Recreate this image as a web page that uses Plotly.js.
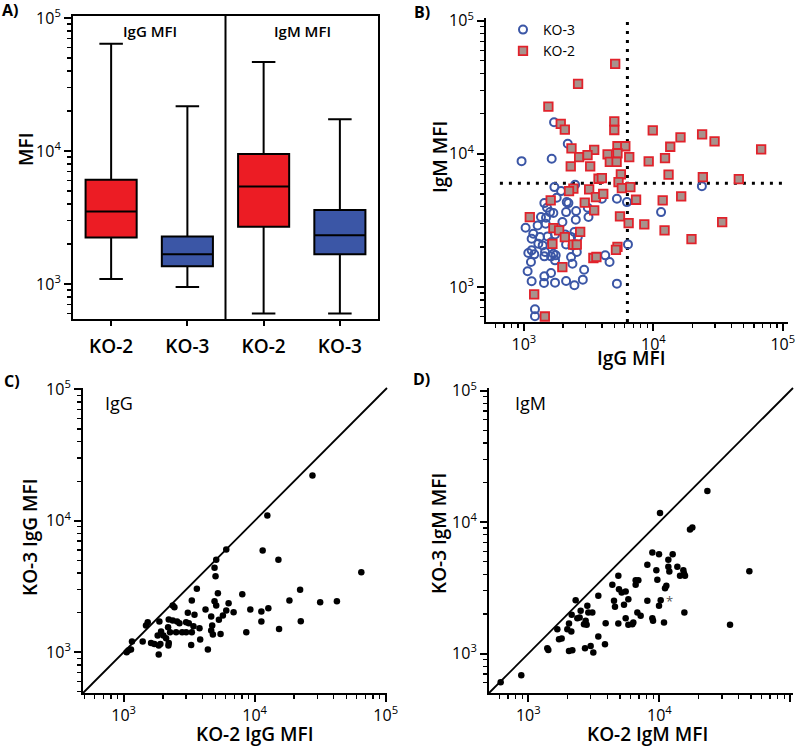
<!DOCTYPE html>
<html><head><meta charset="utf-8">
<script src="https://cdn.plot.ly/plotly-3.0.1.min.js"></script>
<style>html,body{margin:0;padding:0;background:#fff}#chart{width:800px;height:747px}</style>
</head><body><div id="chart"></div>
<script>
// ---------- Panel A: box plot summary values ----------
const boxLabels = ['KO-2', 'KO-3', 'KO-2', 'KO-3'];
const boxPositions = [0, 1, 2, 3];
const ko2Pos = [0, 2];            // IgG, IgM
const ko3Pos = [1, 3];
const ko2Upper  = [64000, 46700];
const ko2Q3     = [6080, 9500];
const ko2Median = [3510, 5400];
const ko2Q1     = [2240, 2700];
const ko2Lower  = [1090, 600];
const ko3Upper  = [21700, 17300];
const ko3Q3     = [2280, 3600];
const ko3Median = [1675, 2330];
const ko3Q1     = [1360, 1675];
const ko3Lower  = [950, 600];

// ---------- Panel B: IgG vs IgM MFI per strain ----------
const bKO3IgG = [959,1709,1639,2181,1719,1936,2485,2142,2206,1791,1438,1508,1591,1688,1354,1481,1030,1276,1472,2117,2530,1983,2515,3115,3153,4000,5228,6251,1181,1330,1147,1526,1739,1639,2079,2313,2455,2606,1292,1396,1081,1147,1202,1455,1688,1760,1619,2117,2370,2561,1133,1438,1739,2313,2370,4246,4586,6363,1068,1147,1438,1619,1429,1739,2117,2455,2918,2850,5228,1217,1217,23700,11467];
const bKO3IgM = [8810,17280,9173,11885,5623,5248,5854,4340,4266,4677,4266,3936,3651,3589,3350,3311,2786,2901,2985,3651,3715,3073,3199,3936,3350,4597,4597,4340,2512,2371,2304,2399,2483,2176,2483,2371,2585,2371,2113,2053,1799,1884,1758,1830,1778,1728,1698,2089,2053,1830,1540,1698,1585,1679,1496,1728,1540,2089,1311,1103,1202,1274,1072,1078,1109,1029,1349,1135,1059,680,603,5720,3651];
const bKO2IgG = [5070,2620,1545,1925,2070,4990,4990,9890,2330,3490,5280,6070,2670,3100,4430,5280,6510,4610,5200,2300,3250,9200,12300,13500,16200,23800,29700,68000,13100,24100,45700,5610,3770,4000,5380,5710,6640,2410,2230,3190,3600,4100,7350,11800,16400,2950,1610,3490,1110,5520,6440,8510,34000,12200,19700,1690,1870,2720,1660,2070,2400,2560,5280,5140,3440,3630,1980,1200,1450];
const bKO2IgM = [47300,33500,22600,16800,15200,17500,15100,15000,11000,10700,11400,11400,9440,9770,9890,10100,9440,8710,8710,8040,8040,8770,9290,11300,13300,14000,12400,10800,6970,6680,6460,7000,6500,6580,6130,5530,5620,5470,5250,5400,4730,5010,4520,4470,4790,4300,4470,3760,3350,3390,3020,2950,3070,2660,2290,2770,2660,2590,2110,2370,2080,2080,2000,1900,1650,1680,1410,880,600];
const igGThreshold = 6300;
const igMThreshold = 6000;

// ---------- Panel C: KO-2 vs KO-3 IgG ----------
const cKO2IgG = [27620,12500,6070,11510,15180,65150,5089,4942,5029,3622,8046,5240,3315,2371,2442,4942,5089,6324,22230,18420,31620,42420,9266,11250,12720,6907,6070,5723,5333,4660,4217,3090,3474,2210,2371,2559,2667,1875,1527,1482,2999,3144,3413,3794,4742,4660,4798,5492,3839,3315,2999,2795,2515,2184,2262,1931,2012,1820,2109,2210,2197,1619,1717,1908,1853,1398,1158,1086,1138,1054,1853,3277,4395,11250,8635,22490,15360];
const cKO3IgG = [22140,10980,6050,5944,5047,4066,5047,4386,3791,3035,2764,2813,2475,2266,2201,2445,2266,2361,2983,2475,2403,2445,2114,2040,2163,2016,2076,1902,1763,1869,2114,1993,1925,1773,1742,1712,1663,1712,1692,1596,1692,1663,1578,1523,1596,1462,1363,1379,1249,1420,1420,1420,1420,1550,1420,1437,1339,1339,1279,1178,1124,1178,1157,1157,1124,1206,1206,1030,1048,1000,960,1137,1048,1712,1420,1722,1505];

// ---------- Panel D: KO-2 vs KO-3 IgM ----------
const dKO2IgM = [615,884,1396,1421,1665,1715,1797,1985,2044,2129,2142,2044,2167,2298,2366,2465,2509,2660,2740,2788,2821,2871,3080,2708,2991,3134,3422,3422,3847,3893,4378,4508,4587,4864,4864,4921,5158,5534,5374,5799,5534,5799,6221,6331,6596,6913,6596,6793,7202,8099,8099,8843,9942,9487,9654,11710,8843,8948,10850,9942,10240,11050,11310,10120,23250,17140,17860,12640,11710,11920,13720,15250,15430,14380,15700,48640,15520,34630];
const dKO3IgM = [605,684,1098,1066,1532,1286,1301,1532,1692,1471,1970,1048,1060,2548,1858,1880,2114,1673,1773,1653,2307,2052,2052,1098,1144,1018,2749,1347,1178,1702,3333,2518,2266,3904,1692,3090,2914,2966,2348,2593,1858,1653,1673,1722,3618,3618,3333,2052,1935,2518,4733,5875,5706,4310,3639,5167,1858,1773,1722,2307,2548,3145,3275,11710,17220,8796,9108,5706,4570,4210,4570,4310,4066,3904,3904,4236,2052,1653];

// ---------- shared tick labels ----------
const logTickVals = [1000, 10000, 100000];
const logTickText = ['10<sup>3</sup>', '10<sup>4</sup>', '10<sup>5</sup>'];
const logMinorTicks = [500, 600, 700, 800, 900, 2000, 3000, 4000, 5000, 6000, 7000, 8000, 9000,
                       20000, 30000, 40000, 50000, 60000, 70000, 80000, 90000];

const W = 800, H = 747;
const px = x => x / W;
const py = y => 1 - y / H;
const FONT = '"Open Sans", "Liberation Sans", Arial, sans-serif';
const RED = '#ec1c24', BLUE = '#3b56a6';

function logAxis(extra) {
  return Object.assign({
    type: 'log', tickmode: 'array', tickvals: logTickVals, ticktext: logTickText,
    ticks: 'outside', ticklen: 7, tickwidth: 2, tickcolor: 'black',
    showline: true, linecolor: 'black', linewidth: 2,
    showgrid: false, zeroline: false,
    tickfont: {family: FONT, size: 16, color: 'black'},
    minor: {tickmode: 'array', tickvals: logMinorTicks, ticks: 'outside', ticklen: 4,
            tickwidth: 1.3, tickcolor: 'black', showgrid: false}
  }, extra);
}

const traces = [
  {type: 'box', x: ko2Pos, q1: ko2Q1, median: ko2Median, q3: ko2Q3,
   lowerfence: ko2Lower, upperfence: ko2Upper, width: 0.67, whiskerwidth: 0.46,
   fillcolor: RED, line: {color: 'black', width: 2}, boxpoints: false,
   xaxis: 'x', yaxis: 'y', showlegend: false, hoverinfo: 'skip'},
  {type: 'box', x: ko3Pos, q1: ko3Q1, median: ko3Median, q3: ko3Q3,
   lowerfence: ko3Lower, upperfence: ko3Upper, width: 0.67, whiskerwidth: 0.46,
   fillcolor: BLUE, line: {color: 'black', width: 2}, boxpoints: false,
   xaxis: 'x', yaxis: 'y', showlegend: false, hoverinfo: 'skip'},
  {type: 'scatter', mode: 'markers', name: 'KO-3', x: bKO3IgG, y: bKO3IgM,
   xaxis: 'x2', yaxis: 'y2',
   marker: {symbol: 'circle-open', size: 8, color: BLUE, line: {width: 2, color: BLUE}}},
  {type: 'scatter', mode: 'markers', name: 'KO-2', x: bKO2IgG, y: bKO2IgM,
   xaxis: 'x2', yaxis: 'y2',
   marker: {symbol: 'square', size: 8.5, color: '#a8928c', line: {width: 1.8, color: '#e1222b'}}},
  {type: 'scatter', mode: 'markers', x: cKO2IgG, y: cKO3IgG, xaxis: 'x3', yaxis: 'y3',
   showlegend: false, marker: {size: 6.5, color: 'black'}},
  {type: 'scatter', mode: 'markers', x: dKO2IgM, y: dKO3IgM, xaxis: 'x4', yaxis: 'y4',
   showlegend: false, marker: {size: 6.5, color: 'black'}}
];

const titleFont = {family: FONT, size: 19, color: 'black', weight: 600};
function ann(text, x, y, font, extra) {
  return Object.assign({text: text, x: px(x), y: py(y), xref: 'paper', yref: 'paper',
    xanchor: 'center', yanchor: 'middle', showarrow: false, borderpad: 0, font: font}, extra || {});
}
const letterFont = {family: FONT, size: 16, color: 'black', weight: 700};
const panelTextFont = {family: FONT, size: 15, color: 'black', weight: 600};
const insetFont = {family: FONT, size: 18, color: 'black'};

const layout = {
  width: W, height: H, autosize: false,
  margin: {l: 0, r: 0, t: 0, b: 0},
  paper_bgcolor: 'white', plot_bgcolor: 'white',
  boxmode: 'overlay', hovermode: false,
  font: {family: FONT, color: 'black'},
  xaxis: {domain: [px(73), px(378)], anchor: 'y', range: [-0.5, 3.5],
    tickmode: 'array', tickvals: boxPositions, ticktext: boxLabels,
    ticks: 'outside', ticklen: 5, tickwidth: 2, tickcolor: 'black',
    showline: true, mirror: true, linecolor: 'black', linewidth: 2,
    showgrid: false, zeroline: false, ticklabelstandoff: 4,
    tickfont: {family: FONT, size: 19, color: 'black', weight: 600}},
  yaxis: logAxis({domain: [py(319), py(16)], anchor: 'x', range: [2.737, 5.015], mirror: true}),
  xaxis2: logAxis({domain: [px(486), px(788)], anchor: 'y2', range: [2.707, 5.04]}),
  yaxis2: logAxis({domain: [py(322), py(18)], anchor: 'x2', range: [2.737, 5.02]}),
  xaxis3: logAxis({domain: [px(83), px(387)], anchor: 'y3', range: [2.69, 5.01]}),
  yaxis3: logAxis({domain: [py(693), py(388)], anchor: 'x3', range: [2.69, 5.01]}),
  xaxis4: logAxis({domain: [px(489), px(793)], anchor: 'y4', range: [2.70, 5.02]}),
  yaxis4: logAxis({domain: [py(693), py(388)], anchor: 'x4', range: [2.70, 5.02]}),
  legend: {x: px(503), y: py(14), xanchor: 'left', yanchor: 'top',
    bgcolor: 'rgba(0,0,0,0)', font: {family: FONT, size: 14, color: 'black'},
    itemwidth: 30, tracegroupgap: 0},
  shapes: [
    {type: 'line', xref: 'x', yref: 'y domain', x0: 1.5, x1: 1.5, y0: 0, y1: 1,
     line: {color: 'black', width: 2}},
    {type: 'line', xref: 'x2', yref: 'y2 domain', x0: igGThreshold, x1: igGThreshold, y0: 0, y1: 1,
     layer: 'below', line: {color: 'black', width: 3, dash: '3px,6px'}},
    {type: 'line', xref: 'x2 domain', yref: 'y2', x0: 0.046, x1: 0.985, y0: igMThreshold, y1: igMThreshold,
     layer: 'below', line: {color: 'black', width: 3, dash: '3px,6px'}},
    {type: 'line', xref: 'x3 domain', yref: 'y3 domain', x0: 0, y0: 0, x1: 1, y1: 1,
     layer: 'below', line: {color: 'black', width: 1.8}},
    {type: 'line', xref: 'x4 domain', yref: 'y4 domain', x0: 0, y0: 0, x1: 1, y1: 1,
     layer: 'below', line: {color: 'black', width: 1.8}}
  ],
  annotations: [
    ann('A)', 10, 10, letterFont),
    ann('B)', 422, 12, letterFont),
    ann('C)', 12, 381, letterFont),
    ann('D)', 421, 379, letterFont),
    ann('IgG MFI', 150, 31, panelTextFont),
    ann('IgM MFI', 302, 31, panelTextFont),
    ann('MFI', 26, 150, titleFont, {textangle: -90}),
    ann('IgG MFI', 631, 358, titleFont),
    ann('IgM MFI', 440, 157, titleFont, {textangle: -90}),
    ann('IgG', 119, 403, insetFont),
    ann('IgM', 530, 403, insetFont),
    ann('KO-3 IgG MFI', 30, 538, titleFont, {textangle: -90}),
    ann('KO-2 IgG MFI', 254, 734, titleFont),
    ann('KO-3 IgM MFI', 439, 533, titleFont, {textangle: -90}),
    ann('KO-2 IgM MFI', 647, 734, titleFont),
    {text: '*', x: 4.075, y: 3.40, xref: 'x4', yref: 'y4', showarrow: false,
     font: {family: FONT, size: 13, color: '#555'}}
  ]
};

Plotly.newPlot('chart', traces, layout, {staticPlot: true, displayModeBar: false});
</script>
</body></html>
